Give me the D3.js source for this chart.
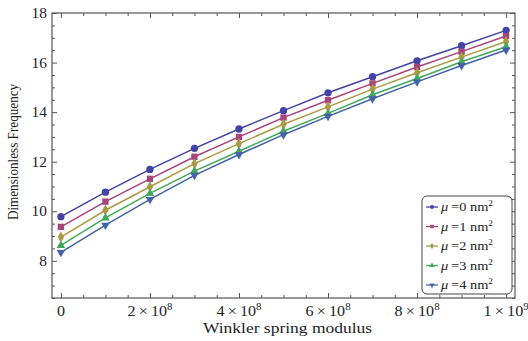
<!DOCTYPE html>
<html>
<head>
<meta charset="utf-8">
<script src="https://cdn.jsdelivr.net/npm/d3@7"></script>
<style>
  body { margin: 0; background: #fff; }
  svg { display: block; font-family: "Liberation Serif", "DejaVu Serif", serif; }
  .frame path.domain { display: none; }
  .frame line { stroke: #555; }
</style>
</head>
<body>
<svg id="chart" width="528" height="341"></svg>
<script>
// spring modulus samples
var kw = [0, 1e8, 2e8, 3e8, 4e8, 5e8, 6e8, 7e8, 8e8, 9e8, 1e9];

var mu0 = [9.78, 10.77, 11.69, 12.54, 13.32, 14.06, 14.78, 15.43, 16.07, 16.68, 17.30];
var mu1 = [9.37, 10.39, 11.31, 12.20, 13.00, 13.78, 14.48, 15.16, 15.82, 16.44, 17.07];
var mu2 = [8.96, 10.04, 10.99, 11.92, 12.73, 13.51, 14.21, 14.93, 15.59, 16.22, 16.85];
var mu3 = [8.62, 9.73, 10.72, 11.62, 12.42, 13.23, 13.95, 14.70, 15.36, 16.03, 16.64];
var mu4 = [8.34, 9.44, 10.48, 11.45, 12.29, 13.09, 13.83, 14.54, 15.22, 15.88, 16.51];

var seriesNames = ["0", "1", "2", "3", "4"];

var xTicks = [0, 2e8, 4e8, 6e8, 8e8, 1e9];
var xTickMant = ["0", "2", "4", "6", "8", "1"];
var xTickExp = ["", "8", "8", "8", "8", "9"];
var yTicks = [8, 10, 12, 14, 16, 18];

var width = 528
  , height = 341
  , margin = { top: 13, left: 52, right: 13, bottom: 43 }
  , stretch = 1.15   // the original text is a bit wide
  , svg = d3.select("#chart")
;

var colors = ["#4343a6", "#a8437c", "#a89b43", "#43a85c", "#4363a8"];
var shapes = [d3.symbolCircle, d3.symbolSquare, d3.symbolDiamond, d3.symbolTriangle, "down"];

var x = d3.scaleLinear()
    .domain([-0.02e9, 1.02e9])
    .range([margin.left, width - margin.right]);
var y = d3.scaleLinear()
    .domain([6.5, 18])
    .range([height - margin.bottom, margin.top]);

var x0 = x.range()[0], x1 = x.range()[1]
  , y0 = y.range()[0], y1 = y.range()[1];

var xMinor = d3.range(0, 1.0001e9, 0.5e8).filter(function(v) { return xTicks.indexOf(Math.round(v)) < 0; });
var yMinor = d3.range(6.5, 18.001, 0.5).filter(function(v) { return yTicks.indexOf(v) < 0; });

// frame axes (ticks point inward)
function frameAxis(axisFn, scale, pos, vals, size) {
    return svg.append("g")
        .attr("class", "frame")
        .attr("transform", pos)
        .call(axisFn(scale).tickValues(vals).tickSize(size).tickFormat(""));
}
frameAxis(d3.axisBottom, x, "translate(0," + y0 + ")", xTicks, -5);
frameAxis(d3.axisBottom, x, "translate(0," + y0 + ")", xMinor, -3);
frameAxis(d3.axisTop, x, "translate(0," + y1 + ")", xTicks, -5);
frameAxis(d3.axisTop, x, "translate(0," + y1 + ")", xMinor, -3);
frameAxis(d3.axisLeft, y, "translate(" + x0 + ",0)", yTicks, -5);
frameAxis(d3.axisLeft, y, "translate(" + x0 + ",0)", yMinor, -3);
frameAxis(d3.axisRight, y, "translate(" + x1 + ",0)", yTicks, -5);
frameAxis(d3.axisRight, y, "translate(" + x1 + ",0)", yMinor, -3);

svg.append("rect")
    .attr("x", x0).attr("y", y1)
    .attr("width", x1 - x0).attr("height", y0 - y1)
    .attr("fill", "none")
    .attr("stroke", "#555")
    .attr("stroke-width", 1.2);

// tick labels
var xl = svg.append("g").selectAll("text")
    .data(xTicks)
  .enter().append("text")
    .attr("transform", function(d) { return "translate(" + x(d) + "," + (y0 + 18) + ") scale(" + stretch + ",1)"; })
    .attr("text-anchor", "middle")
    .attr("font-size", 14)
    .attr("fill", "#222");
xl.each(function(d, i) {
    var t = d3.select(this);
    if(!xTickExp[i]) { t.text(xTickMant[i]); return; }
    t.append("tspan").text(xTickMant[i] + "\u2009\u00d7\u200910");
    t.append("tspan").attr("dy", -6).attr("font-size", 9.5).text(xTickExp[i]);
});

svg.append("g").selectAll("text")
    .data(yTicks)
  .enter().append("text")
    .attr("transform", function(d) { return "translate(" + (x0 - 5) + "," + (y(d) + 5) + ") scale(1.1,1)"; })
    .attr("text-anchor", "end")
    .attr("font-size", 14)
    .attr("fill", "#222")
    .text(function(d) { return d; });

// axis titles
svg.append("text")
    .attr("transform", "translate(" + ((x0 + x1) / 2 + 4) + "," + (height - 8) + ") scale(1.25,1)")
    .attr("text-anchor", "middle")
    .attr("font-size", 14)
    .attr("fill", "#222")
    .text("Winkler spring modulus");

svg.append("text")
    .attr("transform", "translate(18,152) rotate(-90) scale(0.94,1)")
    .attr("text-anchor", "middle")
    .attr("font-size", 14)
    .attr("fill", "#222")
    .text("Dimensionless Frequency");

// series
var series = [mu0, mu1, mu2, mu3, mu4].map(function(vals, i) {
    return { name: seriesNames[i], color: colors[i], shape: shapes[i],
             values: vals.map(function(v, j) { return [kw[j], v]; }) };
});

var line = d3.line()
    .x(function(d) { return x(d[0]); })
    .y(function(d) { return y(d[1]); });

function marker(shape, size) {
    if(shape === "down") return d3.symbol().type(d3.symbolTriangle).size(size)();
    return d3.symbol().type(shape).size(size)();
}
var markerSize = [42, 40, 36, 32, 32];

var g = svg.append("g").selectAll("g")
    .data(series)
  .enter().append("g");

g.append("path")
    .attr("d", function(d) { return line(d.values); })
    .attr("fill", "none")
    .attr("stroke", function(d) { return d.color; })
    .attr("stroke-width", 1.5);

g.each(function(s, i) {
    d3.select(this).selectAll(".pt")
        .data(s.values)
      .enter().append("path")
        .attr("class", "pt")
        .attr("d", marker(s.shape, markerSize[i]))
        .attr("transform", function(d) {
            return "translate(" + x(d[0]) + "," + y(d[1]) + ")" + (s.shape === "down" ? " rotate(180)" : "");
        })
        .attr("fill", s.color);
});

// legend
var lg = svg.append("g").attr("transform", "translate(422,196)");
lg.append("rect")
    .attr("width", 90).attr("height", 98)
    .attr("rx", 5)
    .attr("fill", "#fff")
    .attr("stroke", "#444")
    .attr("stroke-width", 1);

var item = lg.selectAll(".item")
    .data(series)
  .enter().append("g")
    .attr("class", "item")
    .attr("transform", function(d, i) { return "translate(0," + (11 + i * 19.5) + ")"; });

item.append("line")
    .attr("x1", 4).attr("x2", 16)
    .attr("stroke", function(d) { return d.color; })
    .attr("stroke-width", 1.3);
item.append("path")
    .attr("d", function(d) { return marker(d.shape, 12); })
    .attr("transform", function(d) { return "translate(10,0)" + (d.shape === "down" ? " rotate(180)" : ""); })
    .attr("fill", function(d) { return d.color; });

var lt = item.append("text")
    .attr("transform", "translate(19,4) scale(1.15,1)")
    .attr("font-size", 12.5)
    .attr("fill", "#222");
lt.append("tspan").attr("font-style", "italic").text("\u03bc");
lt.append("tspan").text(function(d) { return "\u2009=" + d.name + " nm"; });
lt.append("tspan").attr("dy", -5).attr("font-size", 8).text("2");
</script>
</body>
</html>
